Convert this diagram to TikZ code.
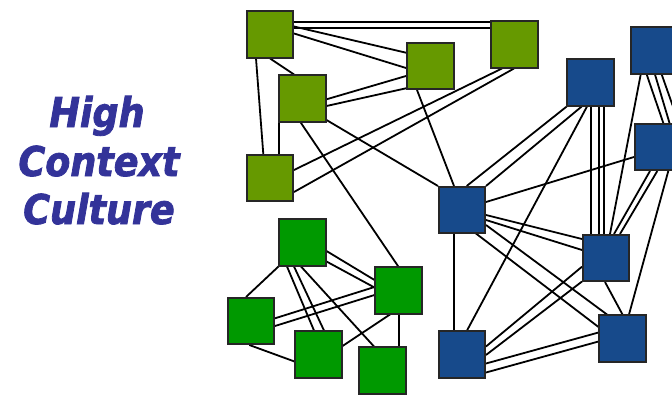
\documentclass[tikz,border=0pt]{standalone}
\usepackage{fontspec}
\newfontfamily\hfont[FakeStretch=0.89,FakeBold=2]{DejaVu Sans}
\usetikzlibrary{calc}
\definecolor{oliveG}{HTML}{669900}
\definecolor{greenC}{HTML}{009900}
\definecolor{blueB}{HTML}{174A8B}
\definecolor{txtB}{HTML}{333399}
\pgfdeclarelayer{bg}
\pgfsetlayers{bg,main}
\begin{document}
\begin{tikzpicture}[x=1pt,y=-1pt,
  sq/.style={draw=black!85, line width=1.9pt, minimum size=46.5pt, inner sep=0pt},
  og/.style={sq, fill=oliveG},
  gc/.style={sq, fill=greenC},
  bb/.style={sq, fill=blueB},
  ln/.style={line width=1.8pt, black},
  ttl/.style={font=\hfont\bfseries\itshape\fontsize{41}{41}\selectfont, text=txtB, anchor=base, inner sep=0pt}]
\clip (0,0) rectangle (672,396);

% title
\node[ttl] (t1) at (97,127) {High};
\node[ttl] (t2) at (99,176) {Context};
\node[ttl] (t3) at (99,224) {Culture};

% squares
\node[og] (G1) at (270,34.5) {};
\node[og] (G2) at (302.5,98.5) {};
\node[og] (G3) at (270,178) {};
\node[og] (G4) at (430.5,66) {};
\node[og] (G5) at (514.5,44.5) {};
\node[bb] (B1) at (462,210) {};
\node[bb] (B2) at (590.5,82.5) {};
\node[bb] (B3) at (654,50.5) {};
\node[bb] (B4) at (658,147) {};
\node[bb] (B5) at (606,258) {};
\node[bb] (B6) at (622.5,338.5) {};
\node[bb] (B7) at (462,354.5) {};
\node[gc] (C1) at (302.5,242.5) {};
\node[gc] (C2) at (251,321) {};
\node[gc] (C3) at (318.5,354.5) {};
\node[gc] (C4) at (398.5,290.5) {};
\node[gc] (C5) at (382.5,370.5) {};

\begin{pgfonlayer}{bg}
\fill[white] (0,0) rectangle (672,396);
% olive cluster
\draw[ln] ($(G1)+(22,-12.5)$) -- ($(G5)+(-24,-22.5)$);
\draw[ln] ($(G1)+(22,-6.5)$) -- ($(G5)+(-24,-16.5)$);
\draw[ln] ($(G1)+(24,-8)$) -- ($(G4)+(-24.5,-13.3)$);
\draw[ln] ($(G1)+(24,-1)$) -- ($(G4)+(-24.5,2)$);
\draw[ln] ($(G1)+(0,24)$) -- ($(G2)+(-8.5,-24)$);
\draw[ln] ($(G1)+(-14,24)$) -- ($(G3)+(-6.7,-24)$);
\draw[ln] ($(G2)+(-23.8,24)$) -- ($(G3)+(8.7,-24)$);
\draw[ln] ($(G2)+(24,0.8)$) -- ($(G4)+(-24.5,10)$);
\draw[ln] ($(G2)+(24,7.5)$) -- ($(G4)+(-24.5,22.3)$);
\draw[ln] ($(G2)+(24,21.5)$) -- ($(B1)+(-24,-24)$);
\draw[ln] ($(G2)+(-3.2,22)$) -- ($(C4)+(-0.2,-24)$);
\draw[ln] ($(G3)+(24,-8)$) -- ($(G5)+(-12.5,24)$);
\draw[ln] ($(G3)+(24,14)$) -- ($(G5)+(-0.5,24)$);
\draw[ln] ($(G4)+(-13.5,24)$) -- ($(B1)+(-8,-24)$);
% blue cluster
\draw[ln] ($(B2)+(-23.8,24)$) -- ($(B1)+(4.7,-24)$);
\draw[ln] ($(B2)+(-8.8,24)$) -- ($(B1)+(24,-24)$);
\draw[ln] ($(B2)+(-3.5,24)$) -- ($(B7)+(5,-24)$);
\draw[ln] ($(B2)+(0.5,24)$) -- ($(B5)+(-15,-24)$);
\draw[ln] ($(B2)+(8.5,24)$) -- ($(B5)+(-7,-24)$);
\draw[ln] ($(B2)+(13.5,24)$) -- ($(B5)+(-2,-24)$);
\draw[ln] ($(B3)+(-13.3,24)$) -- ($(B5)+(4,-24)$);
\draw[ln] ($(B3)+(-7.3,24)$) -- ($(B4)+(5.3,-24)$);
\draw[ln] ($(B3)+(1,24)$) -- ($(B4)+(11.5,-24)$);
\draw[ln] ($(B3)+(7.7,24)$) -- ($(B4)+(20.8,-24)$);
\draw[ln] ($(B4)+(-24,10)$) -- ($(B1)+(24,-8)$);
\draw[ln] ($(B4)+(-8,24)$) -- ($(B5)+(8,-24)$);
\draw[ln] ($(B4)+(-0.7,24)$) -- ($(B5)+(14,-24)$);
\draw[ln] ($(B4)+(10.3,24)$) -- ($(B6)+(6.5,-24)$);
\draw[ln] ($(B1)+(24,5)$) -- ($(B5)+(-24,-19)$);
\draw[ln] ($(B1)+(24,10)$) -- ($(B5)+(-24,-8)$);
\draw[ln] ($(B1)+(24,15)$) -- ($(B6)+(-15.5,-24)$);
\draw[ln] ($(B1)+(12,22)$) -- ($(B6)+(-24,-11.5)$);
\draw[ln] ($(B1)+(-7.7,24)$) -- ($(B7)+(-7.7,-24)$);
\draw[ln] ($(B7)+(24,-8)$) -- ($(B5)+(-24,8.7)$);
\draw[ln] ($(B7)+(24,0.5)$) -- ($(B5)+(-24,23.5)$);
\draw[ln] ($(B7)+(24,9)$) -- ($(B6)+(-24,-6)$);
\draw[ln] ($(B7)+(24,18)$) -- ($(B6)+(-24,3)$);
\draw[ln] ($(B5)+(-1,24)$) -- ($(B6)+(0,-24)$);
% green cluster
\draw[ln] ($(C1)+(-24,24)$) -- ($(C2)+(-5,-24)$);
\draw[ln] ($(C1)+(-15.5,24)$) -- ($(C3)+(-4.5,-24)$);
\draw[ln] ($(C1)+(-8.5,24)$) -- ($(C3)+(5.5,-24)$);
\draw[ln] ($(C1)+(-1.5,24)$) -- ($(C5)+(-8.5,-24)$);
\draw[ln] ($(C1)+(24,8.5)$) -- ($(C4)+(-24,-10.5)$);
\draw[ln] ($(C1)+(24,19)$) -- ($(C4)+(-24,-3)$);
\draw[ln] ($(C2)+(24,-2.7)$) -- ($(C4)+(-24,-3.5)$);
\draw[ln] ($(C2)+(24,5)$) -- ($(C4)+(-24,4.5)$);
\draw[ln] ($(C2)+(-1.7,24)$) -- ($(C3)+(-24,7)$);
\draw[ln] ($(C3)+(24,-8.5)$) -- ($(C4)+(-8.5,24)$);
\draw[ln] ($(C4)+(0.5,24)$) -- ($(C5)+(16.5,-24)$);
\end{pgfonlayer}
\end{tikzpicture}
\end{document}
